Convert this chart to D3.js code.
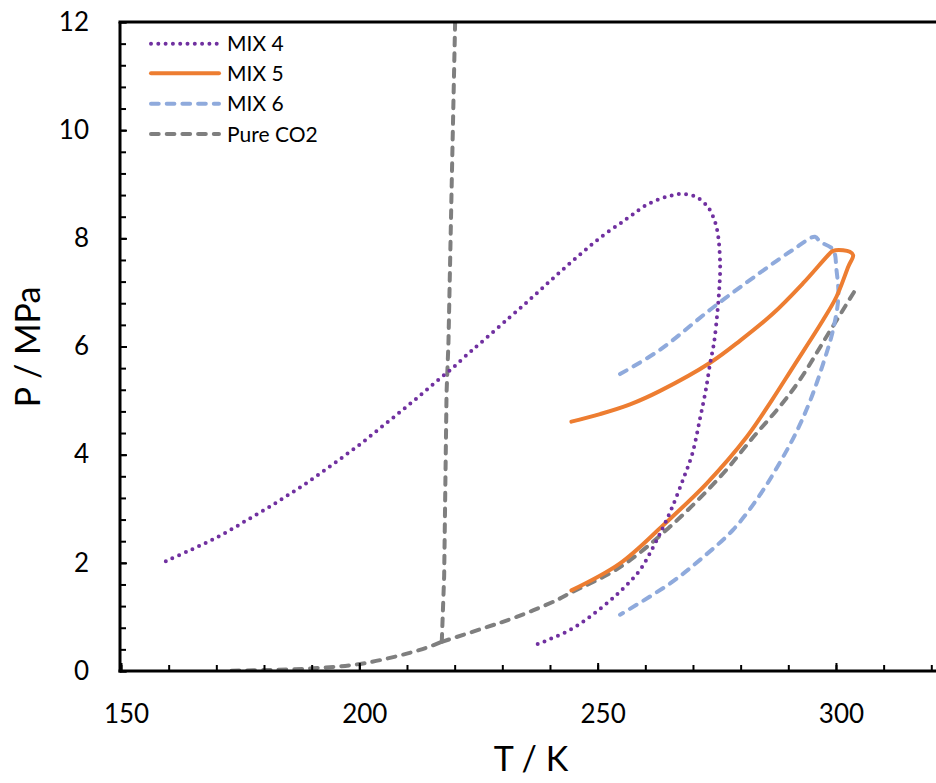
<!DOCTYPE html>
<html>
<head>
<meta charset="utf-8">
<script src="https://cdn.jsdelivr.net/npm/d3@7"></script>
<style>
  html, body { margin: 0; padding: 0; background: #fff; }
  svg { display: block; font-family: Lato, "Open Sans", sans-serif; }
</style>
</head>
<body>
<svg id="chart" width="936" height="783"></svg>
<script>
// ---- data ----
const seriesNames = ["MIX 4", "MIX 5", "MIX 6", "Pure CO2"];

const mix4T = [159.4,163.9,168.3,172.6,176.8,180.9,185.0,189.0,193.0,196.9,200.7,204.5,208.3,212.0,215.7,219.4,223.0,225.4,231.4,236.3,241.0,245.9,250.8,256.1,260.3,264.5,267.8,270.8,273.2,274.6,275.3,275.7,275.5,275.1,274.4,273.6,272.7,271.5,269.9,268.0,265.7,263.8,261.7,258.9,254.7,249.8,244.2,237.2];
const mix4P = [2.03,2.21,2.39,2.59,2.81,3.02,3.25,3.48,3.73,3.98,4.23,4.50,4.77,5.04,5.32,5.59,5.88,6.06,6.53,6.91,7.29,7.67,8.03,8.36,8.62,8.77,8.82,8.76,8.57,8.31,8.03,7.48,7.05,6.61,6.06,5.69,5.20,4.68,4.03,3.56,3.04,2.67,2.30,1.87,1.47,1.10,0.76,0.49];

const mix5T = [244.5,250.5,256.8,263.1,273.6,279.9,286.8,293.1,298.7,299.4,301.5,302.9,303.6,302.6,300.1,297.3,291.0,286.5,281.3,272.9,263.8,254.7,244.5];
const mix5P = [4.61,4.75,4.93,5.18,5.70,6.11,6.61,7.17,7.72,7.77,7.78,7.75,7.69,7.48,6.92,6.49,5.62,5.00,4.33,3.47,2.70,1.99,1.49];

const mix6T = [254.7,263.1,273.6,284.0,291.0,295.6,296.6,299.4,300.1,300.5,299.4,297.3,294.6,291.7,288.2,284.0,278.5,272.2,265.2,254.7];
const mix6P = [5.49,5.94,6.68,7.36,7.79,8.03,7.94,7.79,7.42,6.92,6.31,5.68,5.00,4.42,3.85,3.25,2.62,2.11,1.62,1.04];

// Pure CO2: sublimation, melting and vaporisation branches
const co2SubT = [173.2,180.6,190.3,200.8,212.7,217.3];
const co2SubP = [0.006,0.018,0.05,0.14,0.39,0.54];
const co2MeltT = [217.3,217.8,218.3,218.7,219.4,220.1];
const co2MeltP = [0.54,1.76,5.14,6.07,9.08,12.0];
const co2VapT = [217.3,226.0,233.0,241.4,244.2,254.7,265.2,275.7,282.7,288.2,292.4,298.0,304.3];
const co2VapP = [0.54,0.79,1.00,1.31,1.44,1.92,2.67,3.59,4.33,4.89,5.38,6.18,7.08];

const xMajorTicks = [150, 200, 250, 300];
const yMajorTicks = [0, 2, 4, 6, 8, 10, 12];

// ---- layout ----
const svg = d3.select("#chart");
const x = d3.scaleLinear().domain([150, 320]).range([121, 931.3]);
const y = d3.scaleLinear().domain([0, 12]).range([671, 22]);

const colors = { mix4: "#7030A0", mix5: "#ED7D31", mix6: "#8FAADC", co2: "#7F7F7F" };

const zip = (a, b) => a.map((v, i) => [v, b[i]]);
const lineSmooth = d3.line().x(d => x(d[0])).y(d => y(d[1])).curve(d3.curveCatmullRom.alpha(0.5));
const lineStraight = d3.line().x(d => x(d[0])).y(d => y(d[1]));

const plot = svg.append("g");
svg.append("clipPath").attr("id", "clip")
  .append("rect").attr("x", 120).attr("y", 22).attr("width", 816).attr("height", 649);
plot.attr("clip-path", "url(#clip)");

const dashed = "7.7 8";
const dotted = "0 7.3";

function drawPath(data, color, dash, gen) {
  plot.append("path").datum(data)
    .attr("d", gen)
    .attr("fill", "none")
    .attr("stroke", color)
    .attr("stroke-width", 4)
    .attr("stroke-linecap", "round")
    .attr("stroke-linejoin", "round")
    .attr("stroke-dasharray", dash);
}

drawPath(zip(co2SubT, co2SubP), colors.co2, dashed, lineSmooth);
drawPath(zip(co2MeltT, co2MeltP), colors.co2, dashed, lineStraight);
drawPath(zip(co2VapT, co2VapP), colors.co2, dashed, lineSmooth);
drawPath(zip(mix6T, mix6P), colors.mix6, dashed, lineSmooth);
drawPath(zip(mix5T, mix5P), colors.mix5, null, lineSmooth);
drawPath(zip(mix4T, mix4P), colors.mix4, dotted, lineSmooth);

// ---- axes ----
const axisColor = "#000";
const xMinor = d3.range(150, 321, 10);
const yMinor = d3.range(0, 12.001, 0.4);

const gxMinor = svg.append("g").attr("transform", "translate(0,671)")
  .call(d3.axisBottom(x).tickValues(xMinor).tickSize(-6).tickFormat(""));
const gxMajor = svg.append("g").attr("transform", "translate(0,671)")
  .call(d3.axisBottom(x).tickValues(xMajorTicks).tickSize(-8).tickPadding(34).tickFormat(d3.format("d")));
const gyMinor = svg.append("g").attr("transform", "translate(120,0)")
  .call(d3.axisLeft(y).tickValues(yMinor).tickSize(-6).tickFormat(""));
const gyMajor = svg.append("g").attr("transform", "translate(120,0)")
  .call(d3.axisLeft(y).tickValues(yMajorTicks).tickSize(-7).tickPadding(31).tickFormat(d3.format("d")));

[gxMinor, gxMajor, gyMinor, gyMajor].forEach(g => {
  g.select(".domain").remove();
  g.selectAll(".tick line").attr("stroke", axisColor).attr("stroke-width", 2);
  g.selectAll("text").attr("fill", "#000").style("font-family", "Lato, sans-serif").style("font-size", "26px");
});
gxMajor.selectAll("text").attr("dx", 5);

// axis lines (frame)
svg.append("line").attr("x1", 118.5).attr("x2", 936).attr("y1", 671).attr("y2", 671)
  .attr("stroke", axisColor).attr("stroke-width", 3);
svg.append("line").attr("x1", 120).attr("x2", 120).attr("y1", 22).attr("y2", 672.5)
  .attr("stroke", axisColor).attr("stroke-width", 3);
svg.append("line").attr("x1", 118.5).attr("x2", 936).attr("y1", 22).attr("y2", 22)
  .attr("stroke", axisColor).attr("stroke-width", 3);

// axis titles
svg.append("text").attr("x", 531).attr("y", 771)
  .attr("text-anchor", "middle").style("font-size", "34px").attr("fill", "#000")
  .text("T / K");
svg.append("text").attr("transform", "translate(40,347) rotate(-90)")
  .attr("text-anchor", "middle").style("font-size", "34px").attr("fill", "#000")
  .text("P / MPa");

// ---- legend ----
const legendRows = [
  { name: seriesNames[0], color: colors.mix4, dash: dotted, y: 43.7 },
  { name: seriesNames[1], color: colors.mix5, dash: null, y: 73.3 },
  { name: seriesNames[2], color: colors.mix6, dash: dashed, y: 103.7 },
  { name: seriesNames[3], color: colors.co2, dash: dashed, y: 134 }
];
const lg = svg.append("g");
legendRows.forEach(r => {
  lg.append("line").attr("x1", 151).attr("x2", 219).attr("y1", r.y).attr("y2", r.y)
    .attr("stroke", r.color).attr("stroke-width", 4).attr("stroke-linecap", "round")
    .attr("stroke-dasharray", r.dash);
  lg.append("text").attr("x", 227).attr("y", r.y).attr("dy", "0.36em")
    .style("font-size", "21px").attr("fill", "#000").text(r.name);
});
</script>
</body>
</html>
